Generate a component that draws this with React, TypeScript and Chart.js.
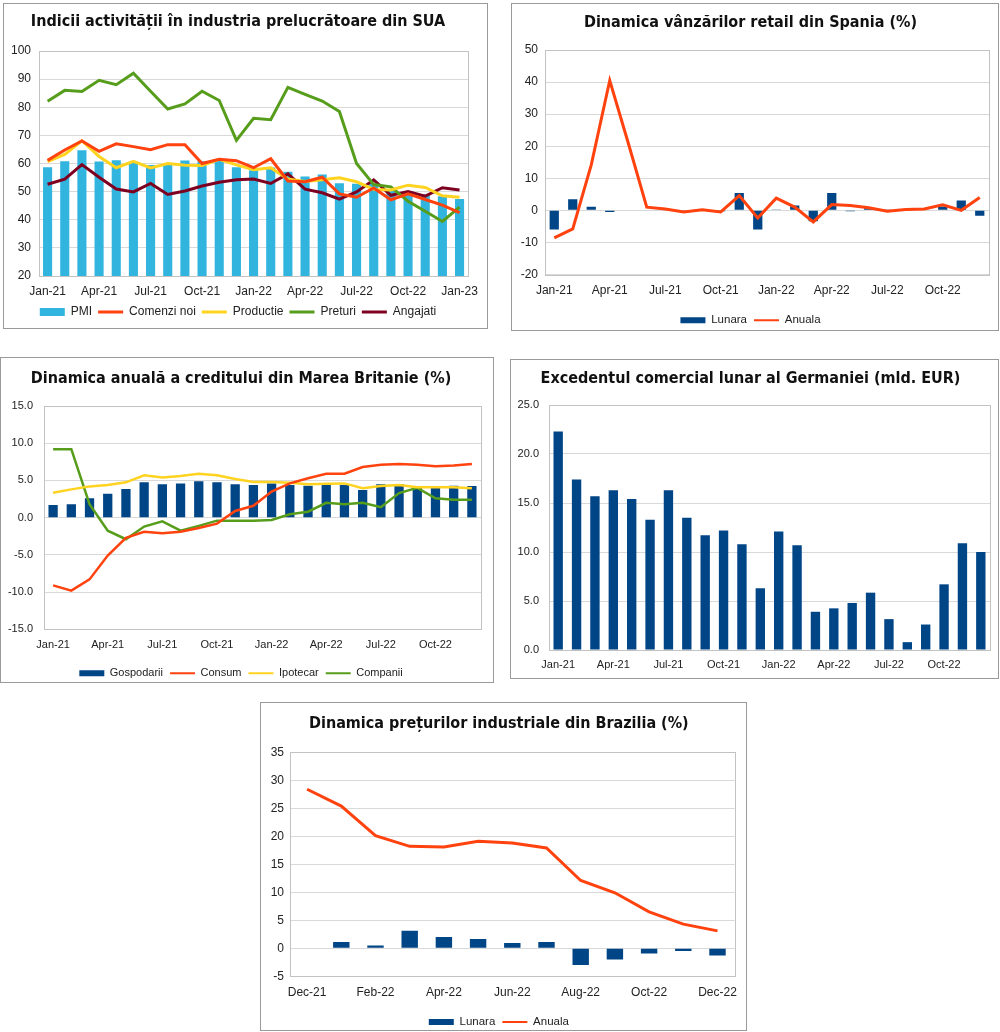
import { useEffect, useRef } from 'react';
import { Chart, registerables } from 'chart.js';

Chart.register(...registerables);

// ---------- DATA ----------
const monthsUS = ['Jan-21','Feb-21','Mar-21','Apr-21','May-21','Jun-21','Jul-21','Aug-21','Sep-21','Oct-21','Nov-21','Dec-21','Jan-22','Feb-22','Mar-22','Apr-22','May-22','Jun-22','Jul-22','Aug-22','Sep-22','Oct-22','Nov-22','Dec-22','Jan-23'];
const pmi = [58.7,60.8,64.7,60.7,61.2,60.6,59.5,59.9,61.1,60.8,61.1,58.7,57.6,58.6,57.1,55.4,56.1,53.0,52.8,52.8,50.9,50.2,49.0,48.4,47.4];
const comenziNoi = [61.1,64.8,68.0,64.3,67.0,66.0,64.9,66.7,66.7,60.0,61.5,61.0,58.5,61.7,53.8,53.5,55.1,49.2,48.0,51.3,47.1,49.2,47.2,45.2,42.5];
const productie = [60.7,63.2,68.1,62.5,58.5,60.8,58.4,60.0,59.4,59.3,61.5,59.5,57.8,58.5,54.5,53.6,54.2,54.9,53.5,50.8,50.6,52.3,51.5,48.5,48.0];
const preturi = [82.1,86.0,85.6,89.6,88.0,92.1,85.7,79.4,81.2,85.7,82.4,68.2,76.1,75.6,87.1,84.6,82.2,78.5,60.0,52.5,51.7,46.6,43.0,39.4,44.5];
const angajati = [52.6,54.4,59.6,55.1,50.9,49.9,52.9,49.0,50.2,52.0,53.3,54.2,54.5,52.9,56.3,50.9,49.6,47.3,49.9,54.2,48.7,50.0,48.4,51.4,50.6];

const months24 = ['Jan-21','Feb-21','Mar-21','Apr-21','May-21','Jun-21','Jul-21','Aug-21','Sep-21','Oct-21','Nov-21','Dec-21','Jan-22','Feb-22','Mar-22','Apr-22','May-22','Jun-22','Jul-22','Aug-22','Sep-22','Oct-22','Nov-22','Dec-22'];
const lunaraES = [-6.0,3.5,1.1,-0.5,0.2,0.2,0.1,-0.3,0.2,-0.3,5.4,-6.0,0.1,1.5,-3.4,5.4,-0.3,0.7,0.1,0.1,0.1,1.2,3.1,-1.7];
const anualaES = [-8.6,-5.8,14.2,40.5,21.0,1.0,0.4,-0.5,0.2,-0.5,4.6,-2.4,3.8,1.0,-3.6,1.8,1.5,0.8,-0.3,0.3,0.4,1.7,0.0,4.0];

const gospodarii = [1.7,1.8,2.6,3.2,3.85,4.75,4.5,4.6,4.9,4.75,4.5,4.4,4.6,4.4,4.3,4.5,4.4,3.7,4.5,4.5,4.25,4.25,4.3,4.25];
const consum = [-9.1,-9.8,-8.3,-5.1,-2.7,-1.9,-2.1,-1.9,-1.4,-0.8,0.9,1.6,3.5,4.6,5.3,5.9,5.9,6.8,7.1,7.2,7.1,6.9,7.0,7.2];
const ipotecar = [3.35,3.8,4.2,4.4,4.75,5.7,5.4,5.6,5.9,5.7,5.2,4.8,4.8,4.7,4.5,4.55,4.6,3.95,4.25,4.4,4.1,4.1,4.1,3.95];
const companii = [9.2,9.2,1.8,-1.75,-2.9,-1.2,-0.5,-1.75,-1.1,-0.4,-0.4,-0.4,-0.3,0.45,0.8,2.0,1.8,2.0,1.4,3.3,4.0,2.6,2.4,2.4];

const excedentDE = [22.3,17.4,15.7,16.3,15.4,13.3,16.3,13.5,11.7,12.2,10.8,6.3,12.1,10.7,3.9,4.25,4.8,5.85,3.15,0.8,2.6,6.7,10.9,10.0];

const monthsBR = ['Dec-21','Jan-22','Feb-22','Mar-22','Apr-22','May-22','Jun-22','Jul-22','Aug-22','Sep-22','Oct-22','Nov-22','Dec-22'];
const lunaraBR = [null,1.13,0.48,3.1,2.0,1.66,0.95,1.13,-3.0,-2.0,-0.95,-0.5,-1.3];
const anualaBR = [28.4,25.4,20.1,18.2,18.1,19.1,18.8,17.9,12.1,9.9,6.5,4.3,3.1];

// ---------- STYLE ----------
const FONT = "'Liberation Sans', Arial, sans-serif";
const TITLE_FONT = "'Liberation Sans Narrow', 'Arial Narrow', 'DejaVu Sans Condensed', sans-serif";
const NAVY = '#004586';
const ORANGE = '#ff420e';
const YELLOW = '#ffd320';
const GREEN = '#579d1c';
const MAROON = '#7e0021';
const CYAN = '#31b4de';

const framePlugin = {
  id: 'frame',
  beforeDatasetsDraw(chart: any) {
    const { ctx, chartArea: a } = chart;
    ctx.save();
    ctx.strokeStyle = '#c2c2c2';
    ctx.lineWidth = 1;
    ctx.strokeRect(Math.round(a.left) + 0.5, Math.round(a.top) + 0.5, Math.round(a.right) - Math.round(a.left), Math.round(a.bottom) - Math.round(a.top));
    ctx.restore();
  },
};

type Cfg = {
  title: string; titleSize: number; titleTop: number; titleBottom: number;
  padRight: number; padBottom: number; yWidth: number; xHeight: number;
  yMin: number; yMax: number; yStep: number; yDec: number; yPad: number;
  tickSize: number; xPad: number; every: number;
  legend: null | { size: number; boxHeight: number; lineWidth: number; padding: number };
};

function makeOptions(c: Cfg) {
  const legend = c.legend
    ? {
        display: true,
        position: 'bottom',
        labels: {
          usePointStyle: true,
          pointStyleWidth: 25,
          boxHeight: c.legend.boxHeight,
          padding: c.legend.padding,
          color: '#222',
          font: { family: FONT, size: c.legend.size },
          sort: (a: any, b: any) => a.datasetIndex - b.datasetIndex,
          generateLabels: (chart: any) => {
            const items = (Chart as any).defaults.plugins.legend.labels.generateLabels(chart);
            return items.map((it: any) => {
              const ds = chart.data.datasets[it.datasetIndex];
              const isBar = (ds.type || chart.config.type) === 'bar';
              return {
                ...it,
                pointStyle: isBar ? 'rect' : 'line',
                lineWidth: isBar ? 0 : c.legend!.lineWidth,
                fillStyle: isBar ? ds.backgroundColor : ds.borderColor,
                strokeStyle: isBar ? ds.backgroundColor : ds.borderColor,
              };
            });
          },
        },
      }
    : { display: false };
  return {
    responsive: false,
    animation: false,
    layout: { padding: { left: 0, right: c.padRight, top: 0, bottom: c.padBottom } },
    plugins: {
      title: {
        display: true,
        text: c.title,
        color: '#111',
        font: { family: TITLE_FONT, size: c.titleSize, weight: 'bold', lineHeight: 1.2 },
        padding: { top: c.titleTop, bottom: c.titleBottom },
      },
      legend,
      tooltip: { enabled: false },
    },
    scales: {
      x: {
        grid: { display: false, drawTicks: false },
        border: { display: false },
        ticks: {
          autoSkip: false,
          maxRotation: 0,
          minRotation: 0,
          padding: c.xPad,
          color: '#222',
          font: { family: FONT, size: c.tickSize },
          callback: function (this: any, v: any, i: number) {
            return i % c.every === 0 ? this.getLabelForValue(v) : '';
          },
        },
        afterFit: (s: any) => { s.height = c.xHeight; },
      },
      y: {
        min: c.yMin,
        max: c.yMax,
        grid: { color: '#d9d9d9', drawTicks: false },
        border: { display: false },
        ticks: {
          stepSize: c.yStep,
          padding: c.yPad,
          color: '#222',
          font: { family: FONT, size: c.tickSize },
          callback: (v: any) => Number(v).toFixed(c.yDec),
        },
        afterFit: (s: any) => { s.width = c.yWidth; },
      },
    },
  };
}

function lineDs(label: string, data: any[], color: string, width: number) {
  return { type: 'line', label, data, borderColor: color, backgroundColor: color, borderWidth: width, pointRadius: 0, tension: 0, order: 0, fill: false };
}
function barDs(label: string, data: any[], color: string, pct: number) {
  return { type: 'bar', label, data, backgroundColor: color, borderWidth: 0, barPercentage: pct, categoryPercentage: 1, order: 1 };
}

// ---------- CONFIGS ----------
const cfgUS = () => ({
  type: 'bar',
  data: {
    labels: monthsUS,
    datasets: [
      barDs('PMI', pmi, CYAN, 0.53),
      lineDs('Comenzi noi', comenziNoi, ORANGE, 3),
      lineDs('Productie', productie, YELLOW, 3),
      lineDs('Preturi', preturi, GREEN, 3),
      lineDs('Angajati', angajati, MAROON, 3),
    ],
  },
  options: makeOptions({
    title: 'Indicii activității în industria prelucrătoare din SUA', titleSize: 16, titleTop: 8.4, titleBottom: 19.4,
    padRight: 15, padBottom: 0, yWidth: 35, xHeight: 24,
    yMin: 20, yMax: 100, yStep: 10, yDec: 0, yPad: 8, tickSize: 12, xPad: 8.8, every: 3,
    legend: { size: 12, boxHeight: 8, lineWidth: 3, padding: 6 },
  }),
  plugins: [framePlugin],
});

const cfgES = () => ({
  type: 'bar',
  data: {
    labels: months24,
    datasets: [barDs('Lunara', lunaraES, NAVY, 0.5), lineDs('Anuala', anualaES, ORANGE, 3)],
  },
  options: makeOptions({
    title: 'Dinamica vânzărilor retail din Spania (%)', titleSize: 16, titleTop: 8.9, titleBottom: 17.9,
    padRight: 9, padBottom: -6, yWidth: 33, xHeight: 33,
    yMin: -20, yMax: 50, yStep: 10, yDec: 0, yPad: 7, tickSize: 12, xPad: 8.8, every: 3,
    legend: { size: 11.5, boxHeight: 6, lineWidth: 2, padding: 7 },
  }),
  plugins: [framePlugin],
});

const cfgUK = () => ({
  type: 'bar',
  data: {
    labels: months24,
    datasets: [
      barDs('Gospodarii', gospodarii, NAVY, 0.51),
      lineDs('Consum', consum, ORANGE, 2.5),
      lineDs('Ipotecar', ipotecar, YELLOW, 2.5),
      lineDs('Companii', companii, GREEN, 2.5),
    ],
  },
  options: makeOptions({
    title: 'Dinamica anuală a creditului din Marea Britanie (%)', titleSize: 16, titleTop: 10.9, titleBottom: 17.9,
    padRight: 12, padBottom: -6.7, yWidth: 43, xHeight: 31.4,
    yMin: -15, yMax: 15, yStep: 5, yDec: 1, yPad: 11, tickSize: 11, xPad: 9.1, every: 3,
    legend: { size: 11, boxHeight: 6, lineWidth: 2, padding: 7 },
  }),
  plugins: [framePlugin],
});

const cfgDE = () => ({
  type: 'bar',
  data: {
    labels: months24,
    datasets: [barDs('Excedent', excedentDE, NAVY, 0.51)],
  },
  options: makeOptions({
    title: 'Excedentul comercial lunar al Germaniei (mld. EUR)', titleSize: 16, titleTop: 8.9, titleBottom: 16.9,
    padRight: 8, padBottom: 0, yWidth: 38, xHeight: 28,
    yMin: 0, yMax: 25, yStep: 5, yDec: 1, yPad: 10, tickSize: 11, xPad: 8.4, every: 3,
    legend: null,
  }),
  plugins: [framePlugin],
});

const cfgBR = () => ({
  type: 'bar',
  data: {
    labels: monthsBR,
    datasets: [barDs('Lunara', lunaraBR, NAVY, 0.48), lineDs('Anuala', anualaBR, ORANGE, 3)],
  },
  options: makeOptions({
    title: 'Dinamica prețurilor industriale din Brazilia (%)', titleSize: 16, titleTop: 11.4, titleBottom: 18.7,
    padRight: 9.3, padBottom: -7.7, yWidth: 29, xHeight: 33,
    yMin: -5, yMax: 35, yStep: 5, yDec: 0, yPad: 6, tickSize: 12, xPad: 8.8, every: 2,
    legend: { size: 11.5, boxHeight: 6, lineWidth: 2, padding: 7 },
  }),
  plugins: [framePlugin],
});

type PanelProps = { left: number; top: number; width: number; height: number; make: () => any };

function Panel({ left, top, width, height, make }: PanelProps) {
  const ref = useRef<HTMLCanvasElement>(null);
  useEffect(() => {
    const chart = new Chart(ref.current as HTMLCanvasElement, make());
    return () => chart.destroy();
  }, []);
  return (
    <div
      style={{
        position: 'absolute', left, top, width, height, boxSizing: 'border-box',
        border: '1px solid #9a9a9a', background: '#fff',
      }}
    >
      <canvas ref={ref} width={width - 2} height={height - 2} style={{ display: 'block' }} />
    </div>
  );
}

export default function App() {
  return (
    <div style={{ position: 'absolute', left: 0, top: 0, width: 1000, height: 1032, overflow: 'hidden', background: '#fff' }}>
      <Panel left={3} top={3} width={485} height={326} make={cfgUS} />
      <Panel left={511} top={3} width={488} height={328} make={cfgES} />
      <Panel left={0} top={357} width={494} height={326} make={cfgUK} />
      <Panel left={510} top={359} width={489} height={320} make={cfgDE} />
      <Panel left={260} top={702} width={487} height={329} make={cfgBR} />
    </div>
  );
}
